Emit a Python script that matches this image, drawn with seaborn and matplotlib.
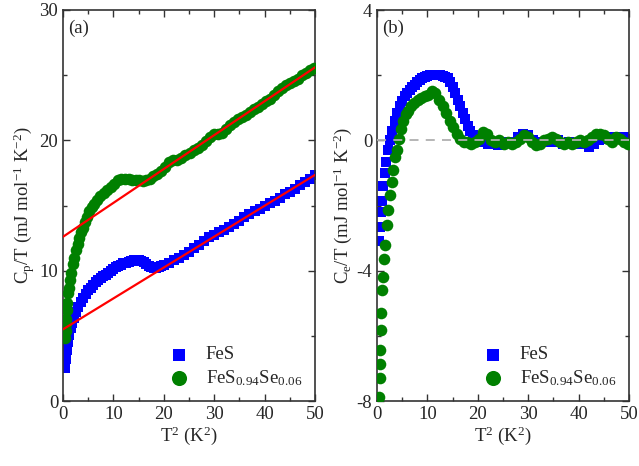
import matplotlib
matplotlib.use("Agg")
import matplotlib.pyplot as plt
import seaborn as sns
from matplotlib.ticker import MultipleLocator

# --- DATA ---
# FeS, T^2 in K^2
t2_fes = [0.3, 0.5, 0.7, 0.9, 1.2, 1.5, 1.8, 2.2, 2.6, 3.0, 3.5, 4.0, 4.5, 5.0, 5.5, 6.0,
          6.5, 7.0, 7.5, 8.0, 8.5, 9.0, 9.5, 10, 10.5, 11, 11.5, 12, 12.5, 13, 13.5, 14,
          14.5, 15, 15.5, 16, 16.5, 17, 17.5, 18, 18.5, 19, 19.5, 20, 21, 22, 23, 24,
          25, 26, 27, 28, 29, 30, 31, 32, 33, 34, 35, 36, 37, 38, 39, 40, 41, 42,
          43, 44, 45, 46, 47, 48, 49, 50]
cp_fes = [2.5, 3.2, 3.9, 4.5, 5.1, 5.6, 6.0, 6.4, 6.8, 7.2, 7.6, 7.9, 8.2, 8.5, 8.7, 8.9,
          9.1, 9.3, 9.4, 9.6, 9.7, 9.85, 10.0, 10.1, 10.25, 10.35, 10.45, 10.55, 10.6, 10.7, 10.75, 10.8,
          10.8, 10.8, 10.75, 10.65, 10.5, 10.35, 10.25, 10.2, 10.2, 10.25, 10.35, 10.45, 10.6, 10.8, 11.0, 11.2,
          11.45, 11.75, 12.0, 12.25, 12.55, 12.75, 12.95, 13.1, 13.35, 13.6, 13.8, 14.1, 14.35, 14.55, 14.75, 14.95, 15.2, 15.35,
          15.6, 15.85, 16.05, 16.3, 16.55, 16.8, 17.05, 17.35]
ce_fes = [-3.1, -2.65, -2.2, -1.85, -1.4, -1.0, -0.65, -0.3, 0.0, 0.3, 0.6, 0.85, 1.05, 1.2, 1.35, 1.45,
          1.55, 1.65, 1.7, 1.78, 1.85, 1.9, 1.95, 1.98, 2.0, 2.02, 2.02, 2.02, 2.0, 1.98, 1.95, 1.9,
          1.8, 1.65, 1.45, 1.25, 1.05, 0.85, 0.65, 0.45, 0.3, 0.15, 0.05, 0.0, -0.05, -0.1, -0.1, -0.15,
          -0.1, -0.05, -0.05, 0.1, 0.2, 0.15, 0.0, -0.05, -0.05, -0.05, -0.05, 0.0, -0.1, -0.05, -0.1, -0.1, -0.1, -0.2,
          -0.1, 0.0, 0.05, 0.1, 0.1, 0.05, 0.1, 0.05]

# FeS0.94Se0.06
t2_se = [0.45, 0.5, 0.55, 0.6, 0.7, 0.8, 1.0, 1.1, 1.35, 1.6, 1.9, 2.2, 2.6, 2.9, 3.2, 3.6,
         3.9, 4.3, 4.7, 5.2, 5.7, 6.2, 6.8, 7.4, 8.1, 8.8, 9.5, 10.2, 10.9, 11.6, 12.3, 13.0,
         13.7, 14.4, 15.1, 15.8, 16.5, 17.2, 17.9, 18.7, 19.5, 20.3, 21.1, 21.9, 22.7, 23.5, 24.3, 25.1,
         25.9, 26.7, 27.5, 28.3, 29.1, 29.9, 30.7, 31.5, 32.3, 33.1, 33.9, 34.7, 35.5, 36.3, 37.1, 37.9,
         38.7, 39.5, 40.3, 41.1, 41.9, 42.7, 43.5, 44.3, 45.1, 45.9, 46.7, 47.5, 48.3, 49.1, 49.9]
cp_se = [4.85, 5.4, 5.9, 6.3, 6.95, 7.5, 8.25, 8.7, 9.3, 9.8, 10.5, 11.0, 11.6, 12.05, 12.5, 13.0,
         13.3, 13.75, 14.15, 14.55, 14.9, 15.1, 15.4, 15.7, 15.95, 16.2, 16.4, 16.65, 16.95, 17.05, 17.0, 17.0,
         16.95, 16.95, 16.95, 16.9, 16.95, 17.05, 17.25, 17.4, 17.65, 17.95, 18.35, 18.5, 18.5, 18.65, 18.9, 19.0,
         19.25, 19.4, 19.65, 19.95, 20.25, 20.45, 20.5, 20.6, 20.85, 21.15, 21.4, 21.65, 21.8, 21.95, 22.15, 22.4,
         22.55, 22.8, 23.05, 23.2, 23.45, 23.75, 24.05, 24.25, 24.4, 24.55, 24.7, 25.05, 25.2, 25.4, 25.55]
ce_se = [-7.87, -7.3, -6.87, -6.44, -5.82, -5.29, -4.59, -4.19, -3.65, -3.21, -2.6, -2.14, -1.68, -1.27, -0.9, -0.5,
         -0.3, 0.05, 0.35, 0.6, 0.8, 0.9, 1.05, 1.15, 1.25, 1.3, 1.35, 1.4, 1.5, 1.45, 1.25, 1.05,
         0.85, 0.6, 0.4, 0.2, 0.05, -0.05, -0.05, -0.1, -0.05, 0.05, 0.25, 0.2, 0.0, -0.05, 0.0, -0.1,
         -0.05, -0.1, -0.05, 0.05, 0.15, 0.1, -0.05, -0.15, -0.1, 0.0, 0.05, 0.1, 0.05, -0.05, -0.1, -0.05,
         -0.1, -0.05, 0.0, -0.05, 0.0, 0.1, 0.2, 0.2, 0.15, 0.05, -0.05, 0.1, 0.05, -0.05, -0.1]

# linear fits (end points)
fit_x = [0, 50]
fit_fes = [5.5, 17.35]
fit_se = [12.6, 25.6]

# --- STYLE ---
sns.set_style("ticks")
plt.rcParams['font.family'] = ['Liberation Serif', 'DejaVu Serif']
plt.rcParams['mathtext.fontset'] = 'custom'
plt.rcParams['mathtext.rm'] = 'Liberation Serif'
plt.rcParams['mathtext.it'] = 'Liberation Serif:italic'
plt.rcParams['mathtext.bf'] = 'Liberation Serif:bold'
plt.rcParams['mathtext.default'] = 'rm'
plt.rcParams['axes.unicode_minus'] = False

BLUE, GREEN, RED = '#0000ff', '#008000', '#ff0000'
FS = 13.5

fig = plt.figure(figsize=(6.39, 4.66), dpi=100)
ax1 = fig.add_axes([63/639, 1-401/466, 252/639, 391/466])
ax2 = fig.add_axes([377/639, 1-401/466, 252/639, 391/466])

def style_axis(ax, ymaj, ymin):
    ax.xaxis.set_major_locator(MultipleLocator(10))
    ax.xaxis.set_minor_locator(MultipleLocator(5))
    ax.yaxis.set_major_locator(MultipleLocator(ymaj))
    ax.yaxis.set_minor_locator(MultipleLocator(ymin))
    ax.tick_params(which='both', direction='in', top=True, right=True, labelsize=FS, color='#333333')
    ax.tick_params(which='major', length=5, width=1)
    ax.tick_params(which='minor', length=3, width=1)
    for s in ax.spines.values():
        s.set_linewidth(1.2)
        s.set_color('#333333')
    ax.set_xlim(0, 50)
    ax.set_xlabel("T$^2$ (K$^2$)", fontsize=FS, labelpad=1)

# (a)
sns.scatterplot(x=t2_fes, y=cp_fes, marker='s', color=BLUE, s=45, linewidth=0, label='FeS', ax=ax1, zorder=2)
sns.scatterplot(x=t2_se, y=cp_se, marker='o', color=GREEN, s=70, linewidth=0,
                label='FeS$_{0.94}$Se$_{0.06}$', ax=ax1, zorder=3)
sns.lineplot(x=fit_x, y=fit_fes, color=RED, linewidth=1.6, ax=ax1, zorder=4)
sns.lineplot(x=fit_x, y=fit_se, color=RED, linewidth=1.6, ax=ax1, zorder=4)
ax1.set_ylim(0, 30)
style_axis(ax1, 10, 5)
ax1.set_ylabel("C$_p$/T (mJ mol$^{-1}$ K$^{-2}$)", fontsize=FS, labelpad=2)
ax1.text(0.02, 0.975, "(a)", transform=ax1.transAxes, fontsize=FS, va='top', ha='left')

# (b)
sns.scatterplot(x=t2_fes, y=ce_fes, marker='s', color=BLUE, s=45, linewidth=0, label='FeS', ax=ax2, zorder=2)
sns.scatterplot(x=t2_se, y=ce_se, marker='o', color=GREEN, s=70, linewidth=0,
                label='FeS$_{0.94}$Se$_{0.06}$', ax=ax2, zorder=3)
ax2.axhline(0, color='#b0b0b0', linestyle=(0, (5, 4)), linewidth=1.3, zorder=4)
ax2.set_ylim(-8, 4)
style_axis(ax2, 4, 2)
ax2.set_ylabel("C$_e$/T (mJ mol$^{-1}$ K$^{-2}$)", fontsize=FS, labelpad=2)
ax2.text(0.02, 0.975, "(b)", transform=ax2.transAxes, fontsize=FS, va='top', ha='left')

for ax in (ax1, ax2):
    ax.legend(loc='lower right', frameon=False, fontsize=FS, markerscale=1.3,
              handletextpad=0.6, borderaxespad=0.3, labelspacing=0.25, handlelength=1.6)

fig.savefig("out.png", dpi=100)
